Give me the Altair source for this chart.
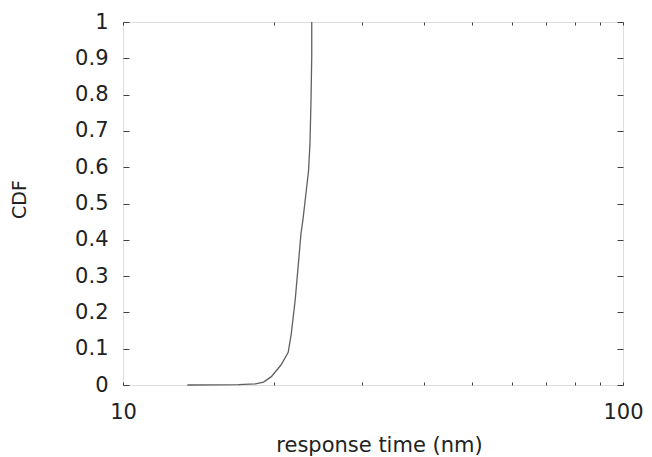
import altair as alt
import pandas as pd

# response time values (log axis) and the cumulative fraction
response_time = [13.45, 17.0, 18.4, 19.1, 19.8, 20.7, 21.4, 21.7, 22.1, 22.4,
                 22.7, 22.9, 23.1, 23.5, 23.66, 23.77, 23.85, 23.85]
cdf = [0.0, 0.001, 0.003, 0.008, 0.023, 0.055, 0.09, 0.14, 0.234, 0.326,
       0.418, 0.455, 0.5, 0.59, 0.667, 0.785, 0.905, 1.0]

x_ticks = [10, 20, 30, 40, 50, 60, 70, 80, 90, 100]
y_ticks = [0, 0.1, 0.2, 0.3, 0.4, 0.5, 0.6, 0.7, 0.8, 0.9, 1.0]

df = pd.DataFrame({"t": response_time, "cdf": cdf, "i": list(range(len(cdf)))})

FONT = "DejaVu Sans"
AX = "#404040"
TXT = "#222222"

xscale = alt.Scale(type="log", domain=[10, 100], nice=False)
yscale = alt.Scale(domain=[0, 1], nice=False)

label_expr = "(datum.value == 10 || datum.value == 100) ? ('' + datum.value) : ''"

common = dict(domain=False, grid=False, tickColor=AX, tickWidth=1,
              labelFont=FONT, labelFontSize=21, labelColor=TXT,
              titleFont=FONT, titleFontWeight="normal",
              titleColor=TXT, labelFlush=False)

main = alt.Chart(df).mark_line(color="#606060", strokeWidth=1.3).encode(
    x=alt.X("t:Q", scale=xscale,
            axis=alt.Axis(orient="bottom", values=x_ticks, labelExpr=label_expr,
                          tickSize=3, offset=-3, labelPadding=16,
                          title="response time (nm)", titleFontSize=21,
                          titlePadding=12, titleX=256, **common)),
    y=alt.Y("cdf:Q", scale=yscale,
            axis=alt.Axis(orient="left", values=y_ticks, format="~g",
                          tickSize=6, offset=-6, labelPadding=15,
                          title="CDF", titleFontSize=19, titlePadding=45,
                          titleY=177, **common)),
    order=alt.Order("i:Q"),
)

mirror = alt.Chart(df).mark_line(opacity=0).encode(
    x=alt.X("t:Q", scale=xscale,
            axis=alt.Axis(orient="top", values=x_ticks, labels=False, title=None,
                          tickSize=3, offset=-3, **common)),
    y=alt.Y("cdf:Q", scale=yscale,
            axis=alt.Axis(orient="right", values=y_ticks, labels=False, title=None,
                          tickSize=6, offset=-6, **common)),
    order=alt.Order("i:Q"),
)

chart = alt.layer(main, mirror).resolve_axis(
    x="independent", y="independent"
).properties(
    width=500, height=363,
    autosize="none",
    padding={"left": 115, "top": 14, "right": 21, "bottom": 72},
).configure_view(
    stroke=AX, strokeWidth=1
).configure(background="white")

chart.save("out.html", embed_options={"renderer": "svg", "actions": False})
